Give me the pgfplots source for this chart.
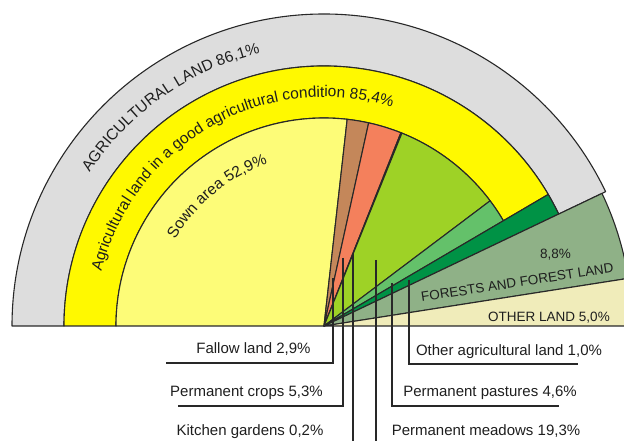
\documentclass[border=0pt]{standalone}
\usepackage{pgfplots}
\pgfplotsset{compat=1.18}
\usepackage{pgfplotstable}
\usepackage{fontspec}
\setmainfont{Liberation Sans}
\usetikzlibrary{decorations.text}

\definecolor{grayc}{RGB}{221,221,221}
\definecolor{yellowc}{RGB}{255,249,0}
\definecolor{sownc}{RGB}{253,252,120}
\definecolor{brownc}{RGB}{196,135,90}
\definecolor{salmonc}{RGB}{244,128,92}
\definecolor{gardenc}{RGB}{214,96,80}
\definecolor{meadowc}{RGB}{158,210,38}
\definecolor{pasturec}{RGB}{100,193,106}
\definecolor{otheragc}{RGB}{0,146,69}
\definecolor{forestc}{RGB}{143,177,135}
\definecolor{otherlandc}{RGB}{240,236,186}
\definecolor{edgec}{RGB}{40,40,40}
\definecolor{textc}{RGB}{30,30,30}

\pgfdeclareplotmark{nothing}{}

\pgfplotsset{
  sector/.style={
    scatter, only marks, mark=nothing,
    visualization depends on={value \thisrow{a1}\as\aone},
    visualization depends on={value \thisrow{a2}\as\atwo},
    visualization depends on={value \thisrow{ri}\as\rin},
    visualization depends on={value \thisrow{ro}\as\rout},
    scatter/@pre marker code/.code={%
      \begingroup\pgfkeys{/pgf/fpu=false}%
      \filldraw[fill=#1, draw=edgec, line width=1.1pt, line join=round]
        (\aone:\rout pt) arc[start angle=\aone, end angle=\atwo, radius=\rout pt]
        -- (\atwo:\rin pt) arc[start angle=\atwo, end angle=\aone, radius=\rin pt] -- cycle;
      \endgroup},
    scatter/@post marker code/.code={},
  }
}

\begin{document}
\begin{tikzpicture}
\begin{axis}[name=ax, x=1pt, y=1pt, xmin=0, xmax=624, ymin=0, ymax=441,
  hide axis, clip marker paths=true, anchor=south west, at={(0,0)}]
% outer rings (angles, radii in pt)
\addplot[sector=grayc] table {
x y a1 a2 ri ro
324 115 180 25.5 260 312
};
\addplot[sector=yellowc] table {
x y a1 a2 ri ro
324 115 180 30.4 208 260
};
% inner sectors
\addplot[sector=sownc] table {
x y a1 a2 ri ro
324 115 180 83.6 0.01 208
};
\addplot[sector=brownc] table {
x y a1 a2 ri ro
324 115 83.6 77.6 0.01 208
};
\addplot[sector=salmonc] table {
x y a1 a2 ri ro
324 115 77.6 68.3 0.01 208
};
\addplot[sector=gardenc] table {
x y a1 a2 ri ro
324 115 68.3 68.0 0.01 208
};
\addplot[sector=meadowc] table {
x y a1 a2 ri ro
324 115 68.0 37.0 0.01 208
};
\addplot[sector=pasturec] table {
x y a1 a2 ri ro
324 115 37.0 30.4 0.01 208
};
\addplot[sector=otheragc] table {
x y a1 a2 ri ro
324 115 30.4 25.5 0.01 260
};
\addplot[sector=forestc] table {
x y a1 a2 ri ro
324 115 25.5 8.9 0.01 308
};
\addplot[sector=otherlandc] table {
x y a1 a2 ri ro
324 115 8.9 0 0.01 308
};

\coordinate (C) at (axis cs:324,115);

% curved texts
\path[decorate, decoration={text along path, text align=center,
  text={|\fontsize{15.5}{18}\selectfont\color{textc}|AGRICULTURAL LAND 86,1{\%}}}]
  ([shift={(175:280pt)}]C) arc[start angle=175, end angle=75, radius=280pt];
\path[decorate, decoration={text along path, text align=center,
  text={|\fontsize{15.5}{18}\selectfont\color{textc}|Agricultural land in a good agricultural condition 85,4{\%}}}]
  ([shift={(178:229pt)}]C) arc[start angle=178, end angle=61, radius=229pt];
\path[decorate, decoration={text along path, text align=center,
  text={|\fontsize{15.5}{18}\selectfont\color{textc}|Sown area 52,9{\%}}}]
  ([shift={(175:172pt)}]C) arc[start angle=175, end angle=84, radius=172pt];

% straight texts in the sectors
\node[anchor=base, rotate=8.7, text=textc, font=\fontsize{13.5}{16}\selectfont] at (axis cs:518,154) {FORESTS AND FOREST LAND};
\node[anchor=base, text=textc, font=\fontsize{13.5}{16}\selectfont] at (axis cs:555.5,182) {8,8\%};
\node[anchor=base, text=textc, font=\fontsize{13.5}{16}\selectfont] at (axis cs:549,119) {OTHER LAND 5,0\%};

% leader lines
\draw[edgec, line width=1.3pt] (axis cs:333,163) -- (axis cs:333,78) -- (axis cs:166,78);
\draw[edgec, line width=1.3pt] (axis cs:343,183) -- (axis cs:343,35) -- (axis cs:178,35);
\draw[edgec, line width=1.3pt] (axis cs:353,187) -- (axis cs:353,-5);
\draw[edgec, line width=1.3pt] (axis cs:376,181) -- (axis cs:376,-5);
\draw[edgec, line width=1.3pt] (axis cs:392,158) -- (axis cs:392,35) -- (axis cs:559,35);
\draw[edgec, line width=1.3pt] (axis cs:409,161) -- (axis cs:409,77) -- (axis cs:578,77);

% labels
\node[anchor=base, text=textc, font=\fontsize{15}{18}\selectfont] at (axis cs:253.5,87) {Fallow land 2,9\%};
\node[anchor=base, text=textc, font=\fontsize{15}{18}\selectfont] at (axis cs:246.5,44) {Permanent crops 5,3\%};
\node[anchor=base, text=textc, font=\fontsize{15}{18}\selectfont] at (axis cs:250,5) {Kitchen gardens 0,2\%};
\node[anchor=base, text=textc, font=\fontsize{15}{18}\selectfont] at (axis cs:509,85) {Other agricultural land 1,0\%};
\node[anchor=base, text=textc, font=\fontsize{15}{18}\selectfont] at (axis cs:490,44) {Permanent pastures 4,6\%};
\node[anchor=base, text=textc, font=\fontsize{15}{18}\selectfont] at (axis cs:486,5) {Permanent meadows 19,3\%};
\end{axis}
\pgfresetboundingbox
\useasboundingbox (ax.south west) rectangle (ax.north east);
\end{tikzpicture}
\end{document}
